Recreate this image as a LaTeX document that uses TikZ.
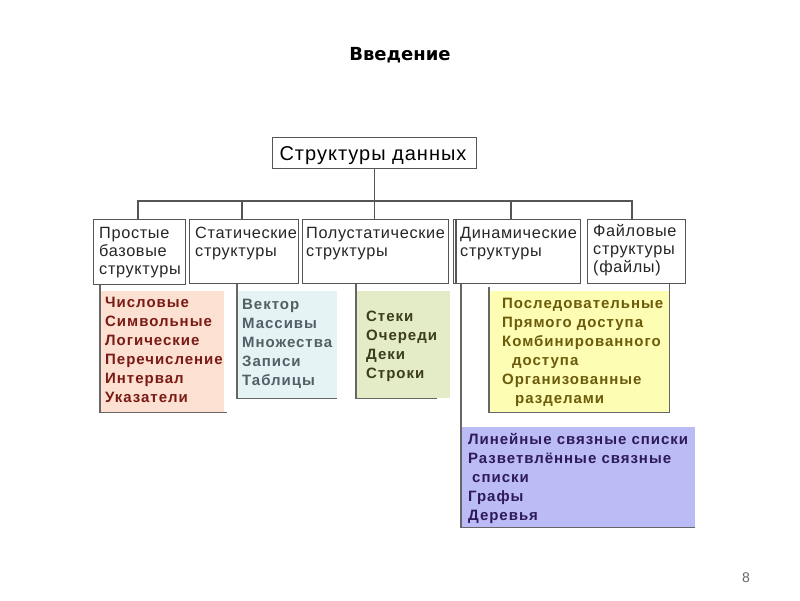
\documentclass[tikz,border=0pt]{standalone}
\usepackage{fontspec}
\setmainfont{Liberation Sans}
\newfontfamily\titlefont{DejaVu Sans}
\definecolor{linegray}{HTML}{555555}
\definecolor{salmonF}{HTML}{FCE0D2}
\definecolor{salmonT}{HTML}{7A1A14}
\definecolor{blueF}{HTML}{E6F3F4}
\definecolor{blueT}{HTML}{545E66}
\definecolor{greenF}{HTML}{E3ECC6}
\definecolor{greenT}{HTML}{3C3C1E}
\definecolor{yellowF}{HTML}{FEFDB4}
\definecolor{yellowT}{HTML}{6B5B0A}
\definecolor{purpleF}{HTML}{BBBBF5}
\definecolor{purpleT}{HTML}{2E1A5A}
\begin{document}
\begin{tikzpicture}[x=1pt,y=-1pt,
  box/.style={draw=linegray, line width=1.2pt, inner sep=0pt, fill=white, anchor=north west},
  cbox/.style={inner sep=0pt, anchor=north west},
  lbl/.style={anchor=north west, inner sep=0pt, align=left, text=black!85,
     font=\fontsize{16.3}{18}\selectfont\addfontfeature{LetterSpace=4}},
  item/.style={anchor=north west, inner sep=0pt, align=left,
     font=\bfseries\fontsize{15}{19}\selectfont\addfontfeature{LetterSpace=6.5}},
  conn/.style={draw=linegray, line width=1.2pt},
  brk/.style={draw=linegray!90, line width=1.1pt}
]
\useasboundingbox[fill=white] (0,0) rectangle (800,600);

% title
\node[inner sep=0pt, font=\titlefont\bfseries\fontsize{18}{20}\selectfont] (title) at (400,55) {Введение};

% root
\node[box, minimum width=204pt, minimum height=31pt] (root) at (272,137) {};
\node[inner sep=0pt, font=\fontsize{20}{22}\selectfont\addfontfeature{LetterSpace=5}, anchor=base] (roott) at (373,160) {Структуры данных};

% level 2 boxes
\node[box, minimum width=92pt, minimum height=65pt] (b1) at (93,219) {};
\node[box, minimum width=109pt, minimum height=64pt] (b2) at (189,219) {};
\node[box, minimum width=146pt, minimum height=64pt] (b3) at (302,219) {};
\node[box, minimum width=127pt, minimum height=64pt] (b4) at (453,219) {};
\node[box, minimum width=98pt, minimum height=64pt] (b5) at (587,219) {};
\draw[conn] ([xshift=3pt]b4.north west) -- ([xshift=3pt]b4.south west);

\node[lbl] (t1) at (99,227) {Простые\\базовые\\структуры};
\node[lbl] (t2) at (195,227) {Статические\\структуры};
\node[lbl] (t3) at (306,227) {Полустатические\\структуры};
\node[lbl] (t4) at (460,227) {Динамические\\структуры};
\node[lbl] (t5) at (593,224) {Файловые\\структуры\\(файлы)};

% tree connectors
\coordinate (hl) at (138,201);
\coordinate (hr) at (632,201);
\draw[conn] (root.south) -- (root.south |- b3.north);
\draw[conn] (b1.north -| hl) |- (hr) -- (b5.north -| hr);
\draw[conn] (b2.north -| 242,0) -- (242,201);
\draw[conn] (b4.north -| 511,0) -- (511,201);

% coloured boxes
\node[cbox, fill=salmonF, minimum width=124pt, minimum height=121pt] (s1) at (100,291) {};
\node[cbox, fill=blueF, minimum width=100pt, minimum height=107pt] (s2) at (237,291) {};
\node[cbox, fill=greenF, minimum width=94pt, minimum height=107pt] (s3) at (356,291) {};
\node[cbox, fill=yellowF, minimum width=180pt, minimum height=121pt] (s5) at (489,291) {};
\node[cbox, fill=purpleF, minimum width=234pt, minimum height=100pt] (s4) at (461,427) {};

% brackets
\draw[brk] (b1.south -| s1.west) -- (s1.south west) -- ([xshift=3pt]s1.south east);
\draw[brk] (b2.south -| s2.west) -- (s2.south west) -- (s2.south east);
\draw[brk] (b3.south -| s3.west) -- (s3.south west) -- ([xshift=-13pt]s3.south east);
\draw[brk] (b4.south -| s4.west) -- (s4.south west) -- (s4.south east);
\draw[brk] (b5.south -| s5.east) -- (s5.south east) -- (s5.south west) -- ([yshift=4pt]s5.north west);

% items
\node[item, text=salmonT] (i1) at (105,297) {Числовые\\Символьные\\Логические\\Перечисление\\Интервал\\Указатели};
\node[item, text=blueT] (i2) at (242,299) {Вектор\\Массивы\\Множества\\Записи\\Таблицы};
\node[item, text=greenT] (i3) at (366,311) {Стеки\\Очереди\\Деки\\Строки};
\node[item, text=yellowT] (i5) at (502,298) {Последовательные\\Прямого доступа\\Комбинированного\\\hspace*{10pt}доступа\\Организованные\\\hspace*{13pt}разделами};
\node[item, text=purpleT] (i4) at (468,433) {Линейные связные списки\\Разветвлённые связные\\\hspace*{4pt}списки\\Графы\\Деревья};

% page number
\node[inner sep=0pt, text=black!60, font=\fontsize{14}{16}\selectfont] (pg) at (746,578) {8};
\end{tikzpicture}
\end{document}
